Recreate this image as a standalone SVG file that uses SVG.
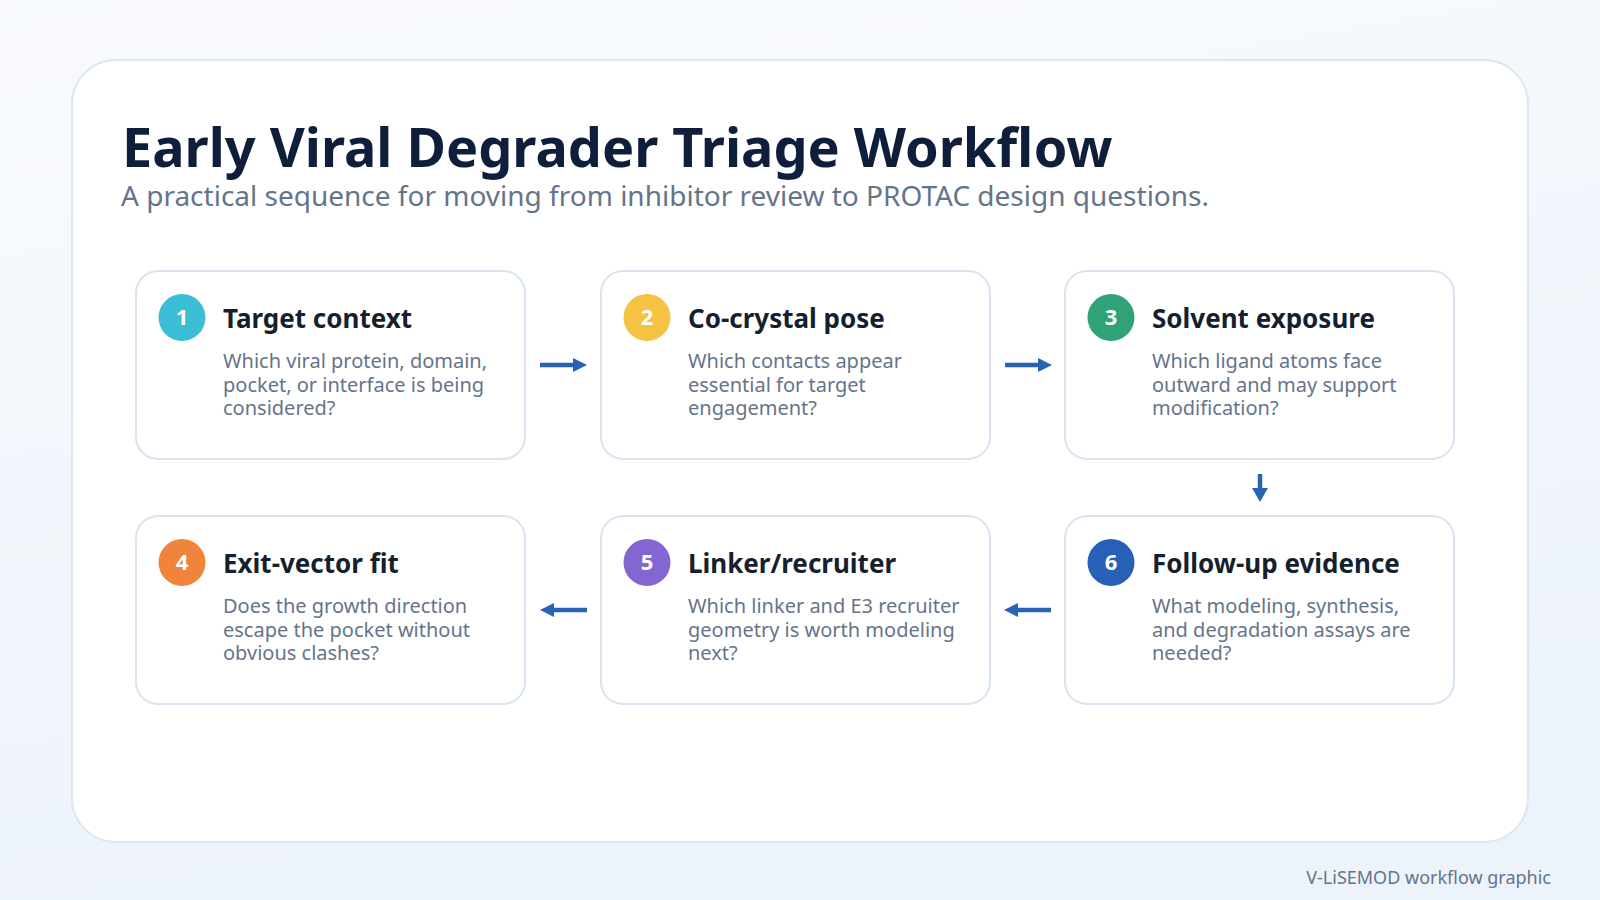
<svg xmlns="http://www.w3.org/2000/svg" width="1600" height="900" viewBox="0 0 1600 900">
  <defs>
    <linearGradient id="bg" x1="0" y1="0" x2="0.3" y2="1">
      <stop offset="0" stop-color="#f8fafd"/>
      <stop offset="1" stop-color="#edf3fb"/>
    </linearGradient>
    <style>
      .card { fill: #ffffff; stroke: #d9e5f2; stroke-width: 2; }
      .title { font-family: "Noto Sans", "Open Sans", sans-serif; font-weight: 700; font-size: 54px; fill: #0f1f3b; }
      .sub { font-family: "Noto Sans", "Open Sans", sans-serif; font-size: 28px; fill: #64748b; }
      .ct { font-family: "Noto Sans", "Open Sans", sans-serif; font-weight: 700; font-size: 26px; fill: #161f2e; }
      .cb { font-family: "Noto Sans", "Open Sans", sans-serif; font-size: 20px; fill: #66748a; }
      .num { font-family: "Noto Sans", "Open Sans", sans-serif; font-weight: 700; font-size: 22px; fill: #ffffff; text-anchor: middle; }
      .foot { font-family: "Noto Sans", "Open Sans", sans-serif; font-size: 18px; fill: #64748b; text-anchor: end; }
      .conn line { stroke: #2963b6; stroke-width: 4.5; }
      .conn polygon { fill: #2963b6; }
    </style>
  </defs>
  <rect x="0" y="0" width="1600" height="900" fill="url(#bg)"/>
  <rect x="72" y="60" width="1456" height="782" rx="44" fill="#ffffff" stroke="#dce7f4" stroke-width="2"/>
  <text class="title" x="122" y="167">Early Viral Degrader Triage Workflow</text>
  <text class="sub" x="121" y="206">A practical sequence for moving from inhibitor review to PROTAC design questions.</text>

  <g id="node1">
    <rect class="card" x="136" y="271" width="389" height="188" rx="22"/>
    <circle cx="182" cy="317.5" r="23.5" fill="#3bbdd6"/>
    <text class="num" x="182" y="325">1</text>
    <text class="ct" x="223" y="328">Target context</text>
    <text class="cb" x="223" y="368">Which viral protein, domain,</text>
    <text class="cb" x="223" y="391.5">pocket, or interface is being</text>
    <text class="cb" x="223" y="415">considered?</text>
  </g>
  <g id="node2">
    <rect class="card" x="601" y="271" width="389" height="188" rx="22"/>
    <circle cx="647" cy="317.5" r="23.5" fill="#f6c244"/>
    <text class="num" x="647" y="325">2</text>
    <text class="ct" x="688" y="328">Co-crystal pose</text>
    <text class="cb" x="688" y="368">Which contacts appear</text>
    <text class="cb" x="688" y="391.5">essential for target</text>
    <text class="cb" x="688" y="415">engagement?</text>
  </g>
  <g id="node3">
    <rect class="card" x="1065" y="271" width="389" height="188" rx="22"/>
    <circle cx="1111" cy="317.5" r="23.5" fill="#2fa277"/>
    <text class="num" x="1111" y="325">3</text>
    <text class="ct" x="1152" y="328">Solvent exposure</text>
    <text class="cb" x="1152" y="368">Which ligand atoms face</text>
    <text class="cb" x="1152" y="391.5">outward and may support</text>
    <text class="cb" x="1152" y="415">modification?</text>
  </g>
  <g id="node4">
    <rect class="card" x="136" y="516" width="389" height="188" rx="22"/>
    <circle cx="182" cy="562.5" r="23.5" fill="#f0843b"/>
    <text class="num" x="182" y="570">4</text>
    <text class="ct" x="223" y="573">Exit-vector fit</text>
    <text class="cb" x="223" y="613">Does the growth direction</text>
    <text class="cb" x="223" y="636.5">escape the pocket without</text>
    <text class="cb" x="223" y="660">obvious clashes?</text>
  </g>
  <g id="node5">
    <rect class="card" x="601" y="516" width="389" height="188" rx="22"/>
    <circle cx="647" cy="562.5" r="23.5" fill="#8466d3"/>
    <text class="num" x="647" y="570">5</text>
    <text class="ct" x="688" y="573">Linker/recruiter</text>
    <text class="cb" x="688" y="613">Which linker and E3 recruiter</text>
    <text class="cb" x="688" y="636.5">geometry is worth modeling</text>
    <text class="cb" x="688" y="660">next?</text>
  </g>
  <g id="node6">
    <rect class="card" x="1065" y="516" width="389" height="188" rx="22"/>
    <circle cx="1111" cy="562.5" r="23.5" fill="#2760b6"/>
    <text class="num" x="1111" y="570">6</text>
    <text class="ct" x="1152" y="573">Follow-up evidence</text>
    <text class="cb" x="1152" y="613">What modeling, synthesis,</text>
    <text class="cb" x="1152" y="636.5">and degradation assays are</text>
    <text class="cb" x="1152" y="660">needed?</text>
  </g>

  <g id="connectors" class="conn">
    <line x1="540" y1="365" x2="575" y2="365"/>
    <polygon points="573,358 587,365 573,372"/>
    <line x1="1005" y1="365" x2="1040" y2="365"/>
    <polygon points="1038,358 1052,365 1038,372"/>
    <line x1="1260" y1="474" x2="1260" y2="490"/>
    <polygon points="1252,488 1268,488 1260,502"/>
    <line x1="1051" y1="610" x2="1016" y2="610"/>
    <polygon points="1018,603 1004,610 1018,617"/>
    <line x1="587" y1="610" x2="552" y2="610"/>
    <polygon points="554,603 540,610 554,617"/>
  </g>

  <text class="foot" x="1551" y="884">V-LiSEMOD workflow graphic</text>
</svg>
